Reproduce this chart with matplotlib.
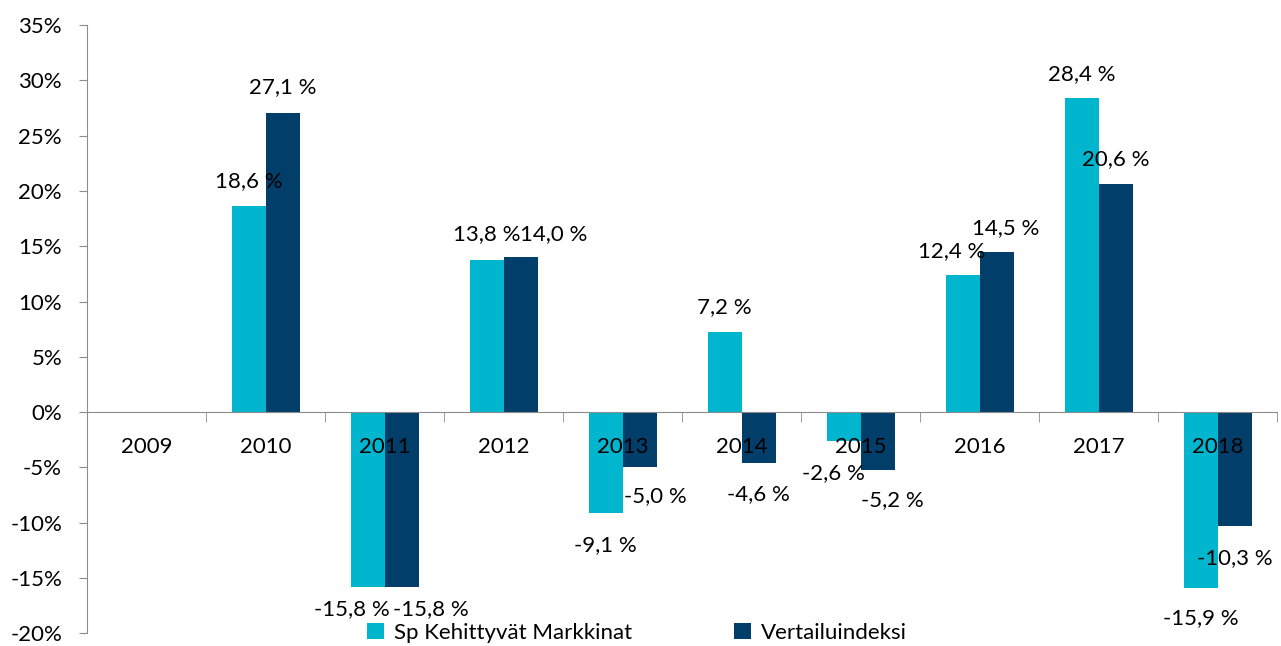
import numpy as np
import matplotlib.pyplot as plt
from matplotlib.ticker import FuncFormatter, FixedLocator

plt.rcParams['font.family'] = ['Lato', 'DejaVu Sans']

years = ['2009', '2010', '2011', '2012', '2013', '2014', '2015', '2016', '2017', '2018']
sp_kehittyvat = [np.nan, 18.6, -15.8, 13.8, -9.1, 7.2, -2.6, 12.4, 28.4, -15.9]
vertailu = [np.nan, 27.1, -15.8, 14.0, -5.0, -4.6, -5.2, 14.5, 20.6, -10.3]
series_names = ['Sp Kehittyvät Markkinat', 'Vertailuindeksi']

c_light = '#00B5CE'
c_dark = '#023E6A'
fs = 16

# label nudges (pixels, dx/dy from bar end) to mimic excel's collision handling
nudge_light = [(0, 0), (0, 25), (-16, -22), (0, 25), (0, -32), (0, 25),
               (-10, -32), (-11, 24), (0, 24), (0, -30)]
nudge_dark = [(0, 0), (0, 25), (29, -22), (33, 23), (16, -29), (0, -31),
              (15, -31), (9, 24), (0, 25), (0, -32)]

fig = plt.figure(figsize=(12.81, 6.46), dpi=100)
ax = fig.add_axes([0.068, 0.020, 0.929, 0.941])

x = np.arange(len(years))
w = 0.286
b1 = ax.bar(x - w / 2, sp_kehittyvat, w, color=c_light, label=series_names[0])
b2 = ax.bar(x + w / 2, vertailu, w, color=c_dark, label=series_names[1])

def fmt(v):
    return ('%.1f %%' % v).replace('.', ',')

for bars, vals, nudge in ((b1, sp_kehittyvat, nudge_light), (b2, vertailu, nudge_dark)):
    for rect, v, (dx, dy) in zip(bars, vals, nudge):
        if np.isnan(v):
            continue
        ax.annotate(fmt(v), (rect.get_x() + rect.get_width() / 2, v),
                    xytext=(dx * 0.72, dy * 0.72), textcoords='offset points',
                    ha='center', va='center', fontsize=fs)

ax.set_xlim(-0.5, len(years) - 0.5)
ax.set_ylim(-20, 35)
ax.set_yticks(np.arange(-20, 36, 5))
ax.yaxis.set_major_formatter(FuncFormatter(lambda v, p: '%d%%' % v))
ax.tick_params(axis='y', length=6, color='#8c8c8c', labelsize=fs, pad=12)

ax.spines['top'].set_visible(False)
ax.spines['right'].set_visible(False)
ax.spines['left'].set_color('#8c8c8c')
ax.spines['bottom'].set_color('#8c8c8c')
ax.spines['bottom'].set_position(('data', 0))

ax.set_xticks(x)
ax.set_xticklabels(years)
ax.xaxis.set_minor_locator(FixedLocator(np.arange(-0.5, len(years), 1.0)))
ax.tick_params(axis='x', which='major', length=0, labelsize=fs, pad=18)
ax.tick_params(axis='x', which='minor', length=7, color='#8c8c8c')

fig.legend(handles=[b1, b2], loc='lower left', bbox_to_anchor=(0.271, -0.026),
           ncol=2, frameon=False, fontsize=fs, handlelength=0.75,
           handleheight=0.75, handletextpad=0.45, columnspacing=4.6)

fig.savefig('out.png', dpi=100)
